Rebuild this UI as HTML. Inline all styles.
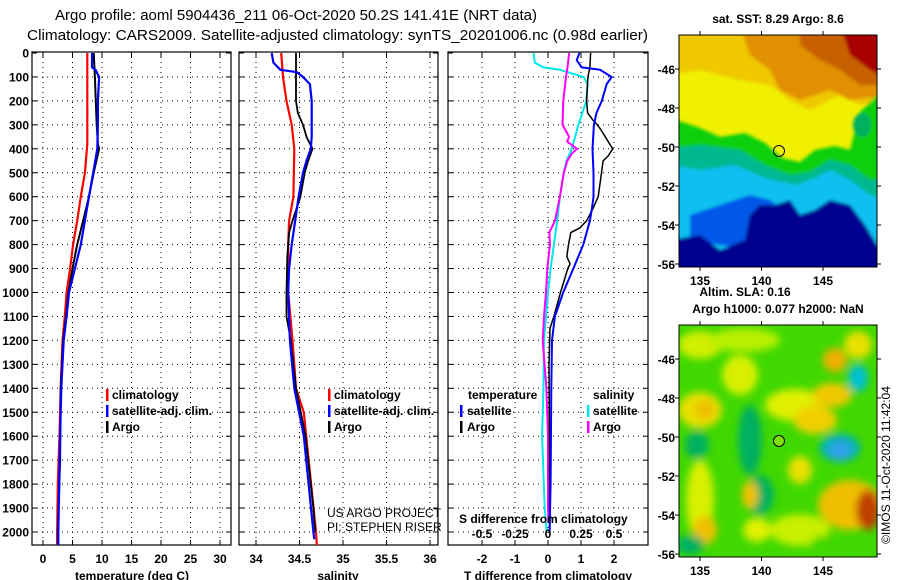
<!DOCTYPE html>
<html><head><meta charset="utf-8"><style>
html,body{margin:0;padding:0;background:#fff;}
svg{display:block;font-family:"Liberation Sans",Arial,sans-serif;}
.t{font-size:12px;font-weight:bold;fill:#000;}
.n{font-size:12px;fill:#000;}
</style></head><body>
<svg id="fig" width="900" height="580" viewBox="0 0 900 580">
<defs>
<clipPath id="c1"><rect x="32" y="52" width="199" height="493"/></clipPath>
<clipPath id="c2"><rect x="239" y="52" width="199" height="493"/></clipPath>
<clipPath id="c3"><rect x="448" y="52" width="200" height="493"/></clipPath>
<clipPath id="cm1"><rect x="679" y="35" width="198" height="232"/></clipPath>
<clipPath id="cm2"><rect x="679" y="325" width="198" height="232"/></clipPath>
<filter id="bl" x="-20%" y="-20%" width="140%" height="140%"><feGaussianBlur stdDeviation="1.5"/></filter>
<filter id="bl2" x="-50%" y="-50%" width="200%" height="200%"><feGaussianBlur stdDeviation="4"/></filter>
</defs>
<text x="55" y="20" font-size="15" textLength="482" lengthAdjust="spacingAndGlyphs">Argo profile: aoml 5904436_211 06-Oct-2020 50.2S 141.41E (NRT data)</text>
<text x="27" y="40" font-size="15" textLength="621" lengthAdjust="spacingAndGlyphs">Climatology: CARS2009. Satellite-adjusted climatology: synTS_20201006.nc (0.98d earlier)</text>
<g id="grids"></g>
<g id="series"></g>
<g id="labels"></g>

<!-- SST map -->
<text x="778" y="23" class="t" text-anchor="middle">sat. SST: 8.29 Argo: 8.6</text>
<g clip-path="url(#cm1)">
<rect x="679" y="35" width="198" height="232" fill="#f0f000"/>
<g filter="url(#bl)">
<polygon points="670,25 890,25 890,100 860,105 840,95 810,110 790,100 770,85 740,80 700,70 670,75" fill="#f0c800"/>
<polygon points="740,25 890,25 890,95 850,100 830,90 800,100 780,90 770,70 750,55" fill="#e09000"/>
<polygon points="800,25 890,25 890,85 860,85 840,70 820,60 800,45" fill="#c86000"/>
<polygon points="840,25 890,25 890,80 870,70 850,55" fill="#a80000"/>
<polygon points="670,118 700,128 720,137 745,133 765,143 782,158 800,162 815,150 835,146 850,150 860,112 877,95 890,95 890,290 670,290" fill="#10d010"/>
<ellipse cx="862" cy="125" rx="9" ry="12" fill="#00b060"/>
<polygon points="670,148 700,145 740,150 765,165 790,175 810,172 830,160 850,165 870,180 890,180 890,290 670,290" fill="#00b890"/>
<polygon points="670,165 700,170 735,165 765,178 795,185 815,178 830,170 850,180 870,195 890,200 890,290 670,290" fill="#10c0f0"/>
<polygon points="690,215 720,205 750,195 770,200 790,215 800,225 790,245 760,250 720,245 690,240" fill="#0058e8"/>
<polygon points="670,240 700,235 720,250 745,240 750,215 760,205 775,205 790,200 800,215 815,210 830,200 850,205 865,225 877,245 890,250 890,290 670,290" fill="#000090"/>
</g>
<circle cx="779" cy="151" r="5.5" fill="none" stroke="#000" stroke-width="1"/>
</g>
<rect x="679" y="35" width="198" height="232" fill="none" stroke="#000"/>

<!-- SLA map -->
<text x="745" y="296" class="t" text-anchor="middle">Altim. SLA: 0.16</text>
<text x="778" y="313" class="t" text-anchor="middle">Argo h1000: 0.077 h2000: NaN</text>
<g clip-path="url(#cm2)">
<rect x="679" y="325" width="198" height="232" fill="#40d800"/>
<g filter="url(#bl2)">
<ellipse cx="700" cy="345" rx="22" ry="14" fill="#d0f000"/>
<ellipse cx="745" cy="340" rx="35" ry="12" fill="#b8f000"/>
<ellipse cx="740" cy="375" rx="18" ry="20" fill="#d8f000"/>
<ellipse cx="700" cy="410" rx="22" ry="18" fill="#e8e000"/>
<ellipse cx="705" cy="410" rx="10" ry="10" fill="#f0c000"/>
<ellipse cx="795" cy="405" rx="30" ry="16" fill="#e0f000"/>
<ellipse cx="815" cy="420" rx="22" ry="14" fill="#f0d000"/>
<ellipse cx="832" cy="395" rx="20" ry="12" fill="#f0c800"/>
<ellipse cx="835" cy="360" rx="12" ry="12" fill="#f0b000"/>
<ellipse cx="858" cy="345" rx="14" ry="14" fill="#e8e000"/>
<ellipse cx="858" cy="378" rx="10" ry="14" fill="#00c0d0"/>
<ellipse cx="840" cy="448" rx="20" ry="14" fill="#00b0c0"/>
<ellipse cx="840" cy="450" rx="10" ry="8" fill="#30a0f0"/>
<ellipse cx="850" cy="505" rx="32" ry="25" fill="#f0c000"/>
<ellipse cx="868" cy="510" rx="12" ry="20" fill="#c04000"/>
<ellipse cx="750" cy="440" rx="12" ry="35" fill="#00b060"/>
<ellipse cx="760" cy="495" rx="14" ry="20" fill="#00b060"/>
<ellipse cx="697" cy="445" rx="12" ry="14" fill="#00b060"/>
<ellipse cx="700" cy="500" rx="14" ry="40" fill="#d8f000"/>
<ellipse cx="705" cy="530" rx="12" ry="14" fill="#f0c000"/>
<ellipse cx="757" cy="530" rx="14" ry="12" fill="#e0f000"/>
<ellipse cx="750" cy="495" rx="8" ry="14" fill="#f0c000"/>
<ellipse cx="800" cy="470" rx="12" ry="14" fill="#e8e000"/>
<ellipse cx="800" cy="530" rx="30" ry="16" fill="#c8f000"/>
<ellipse cx="830" cy="545" rx="20" ry="10" fill="#40d800"/>
<ellipse cx="690" cy="545" rx="14" ry="10" fill="#00b060"/>
</g>
<circle cx="779" cy="441" r="5.5" fill="#80e000" stroke="#000" stroke-width="1"/>
</g>
<rect x="679" y="325" width="198" height="232" fill="none" stroke="#000"/>
<g id="maplabels"></g>
<text transform="translate(890,465) rotate(-90)" class="n" text-anchor="middle" font-size="13">©IMOS 11-Oct-2020 11:42:04</text>
</svg>
<script>
// ---- data ----
var depthTicks = [0,100,200,300,400,500,600,700,800,900,1000,1100,1200,1300,1400,1500,1600,1700,1800,1900,2000];
var tempTicks = [0,5,10,15,20,25,30];
var salTicks = [34,34.5,35,35.5,36];
var salTickLabels = ["34","34.5","35","35.5","36"];
var tdTicks = [-2,-1,0,1,2];
var sdTicks = [-0.5,-0.25,0,0.25,0.5];
var sdTickLabels = ["-0.5","-0.25","0","0.25","0.5"];

var tClimDepth = [0,380,500,600,700,800,900,1000,1100,1200,1400,1600,1800,2000,2060];
var tClimVal   = [7.5,7.5,7.1,6.4,5.8,5.1,4.6,4.0,3.7,3.3,3.0,2.8,2.5,2.4,2.4];
var tArgoDepth = [0,100,300,380,400,500,600,700,800,900,1000,1100,1200,1400,1700,2000,2060];
var tArgoVal   = [8.6,8.8,9.1,9.3,9.5,8.6,7.8,6.8,5.8,5.0,4.3,3.9,3.4,3.0,2.9,2.5,2.5];
var tSatDepth  = [0,60,70,100,200,300,400,500,600,700,800,900,1000,1100,1200,1400,1600,2000,2060];
var tSatVal    = [8.3,8.3,8.9,9.5,9.3,9.3,9.2,8.5,7.8,7.1,6.4,5.4,4.4,4.0,3.5,3.1,2.9,2.6,2.6];

var sClimDepth = [0,100,200,300,400,600,700,800,1000,1200,1400,1500,2000,2060];
var sClimVal   = [34.29,34.31,34.35,34.41,34.44,34.43,34.38,34.37,34.37,34.42,34.46,34.55,34.69,34.70];
var sArgoDepth = [0,200,250,300,350,400,450,500,600,700,750,850,1000,1100,1200,1400,1600,1900,2000];
var sArgoVal   = [34.46,34.46,34.48,34.54,34.58,34.65,34.60,34.56,34.51,34.42,34.38,34.36,34.35,34.35,34.40,34.46,34.57,34.66,34.68];
var sSatDepth  = [0,40,70,80,100,130,200,350,400,450,500,600,700,800,900,1000,1200,1400,1600,2000,2030];
var sSatVal    = [34.18,34.20,34.28,34.47,34.54,34.62,34.64,34.64,34.63,34.58,34.54,34.49,34.45,34.41,34.38,34.37,34.39,34.44,34.55,34.66,34.67];

var tdArgoDepth = [0,60,100,200,250,280,300,320,400,430,450,500,600,650,700,730,750,800,850,880,900,1000,1100,1150,1300,1700,2000];
var tdArgoVal   = [1.29,1.27,1.21,1.17,1.20,1.36,1.49,1.60,1.96,1.82,1.67,1.62,1.52,1.36,1.17,0.97,0.69,0.62,0.57,0.67,0.60,0.38,0.18,0.06,0.03,0.05,0.05];
var tdSatDepth  = [0,30,60,70,100,130,200,250,300,400,500,600,650,700,800,900,1000,1100,1200,1400,1800,2000];
var tdSatVal    = [0.95,0.87,1.02,1.58,1.93,1.78,1.63,1.47,1.39,1.35,1.38,1.38,1.33,1.27,1.07,0.77,0.46,0.21,0.12,0.10,0.08,0.05];
var sdSatDepth  = [0,40,60,70,80,100,130,200,250,300,400,450,500,600,700,800,900,1000,1100,1200,1400,1600,1900,2000];
var sdSatVal    = [-0.11,-0.10,-0.036,0.09,0.15,0.27,0.30,0.29,0.26,0.23,0.18,0.14,0.12,0.09,0.07,0.045,0.02,0.0,-0.015,-0.03,-0.035,-0.045,-0.025,-0.01];
var sdArgoDepth = [0,50,100,200,300,330,350,370,400,420,450,500,600,700,750,800,900,1000,1100,1200,1400,1600,1900,1960];
var sdArgoVal   = [0.16,0.15,0.136,0.116,0.11,0.14,0.16,0.145,0.22,0.18,0.146,0.12,0.09,0.053,0.01,0.015,-0.005,-0.015,-0.03,-0.04,-0.012,0.0,0.0,0.003];

var latTicks = [-46,-48,-50,-52,-54,-56];
var lonTicks = [135,140,145];

// ---- axes ----
function yD(d){return 53 + d*0.2395;}
function xT(t){return 43 + t*5.9;}
function xS(s){return 256 + (s-34)*87;}
function xTD(t){return 548 + t*33;}
function xSD(s){return 548 + s*132;}
function latY1(l){return 147 + (-50-l)*19.5;}
function latY2(l){return 437 + (-50-l)*19.5;}
function lonX(l){return 700 + (l-135)*12.3;}

var NS='http://www.w3.org/2000/svg';
function mk(tag, attrs, parent){var e=document.createElementNS(NS,tag);for(var k in attrs)e.setAttribute(k,attrs[k]);parent.appendChild(e);return e;}
var G=document.getElementById('grids'), S=document.getElementById('series'), L=document.getElementById('labels'), M=document.getElementById('maplabels');

var panels=[{x0:32,x1:231,clip:'c1',xs:tempTicks.map(xT)},{x0:239,x1:438,clip:'c2',xs:salTicks.map(xS)},{x0:448,x1:648,clip:'c3',xs:tdTicks.map(xTD)}];
panels.forEach(function(p,i){
  var g=mk('g',{},G);
  
  
  depthTicks.forEach(function(d){
    if(d>0) mk('line',{x1:p.x0,x2:p.x1,y1:yD(d),y2:yD(d),stroke:'#000','stroke-width':1,'stroke-dasharray':'1,4'},g);
    mk('line',{x1:p.x0,x2:p.x0+5,y1:yD(d),y2:yD(d),stroke:'#000'},g);
    mk('line',{x1:p.x1-5,x2:p.x1,y1:yD(d),y2:yD(d),stroke:'#000'},g);
  });
  p.xs.forEach(function(x){
    mk('line',{x1:x,x2:x,y1:52,y2:545,stroke:'#000','stroke-width':1,'stroke-dasharray':'1,4'},g);
    mk('line',{x1:x,x2:x,y1:540,y2:545,stroke:'#000'},g);
    mk('line',{x1:x,x2:x,y1:52,y2:57,stroke:'#000'},g);
  });
  var r=mk('rect',{x:p.x0,y:52,width:p.x1-p.x0,height:493,fill:'none',stroke:'#000','stroke-width':1.2},g);
  
  
});

depthTicks.forEach(function(d){
  var t=mk('text',{x:29,y:yD(d)+4.5,'class':'t','text-anchor':'end'},L);
  t.textContent=d;
  
  
});
function xlab(arr,labels,fx,y,name){
  arr.forEach(function(v,i){
    var t=mk('text',{x:fx(v),y:y,'class':'t','text-anchor':'middle'},L);
    t.textContent=labels?labels[i]:v;
    
    
  });
}
xlab(tempTicks,null,xT,563,'temp-tick-label');
xlab(salTicks,salTickLabels,xS,563,'salinity-tick-label');
xlab(tdTicks,null,xTD,563,'tdiff-tick-label');
xlab(sdTicks,sdTickLabels,xSD,538,'sdiff-tick-label');

function txt(x,y,s,cls,name,anchor){var t=mk('text',{x:x,y:y,'class':cls,'text-anchor':anchor||'start'},L);t.textContent=s;return t;}
var e;
e=txt(132,580,'temperature (deg C)','t','',  'middle');
e=txt(338,580,'salinity','t','','middle');
e=txt(548,580,'T difference from climatology','t','','middle');
e=txt(459,523,'S difference from climatology','t','');
e=txt(327,517,'US ARGO PROJECT','n','');
e=txt(327,531,'PI: STEPHEN RISER','n','');

function series(dep,val,fx,color,w,clip,name){
  var d='';
  for(var i=0;i<dep.length;i++){d+=(i?'L':'M')+fx(val[i]).toFixed(1)+','+yD(dep[i]).toFixed(1);}
  var p=mk('path',{d:d,fill:'none',stroke:color,'stroke-width':w,'clip-path':'url(#'+clip+')','stroke-linejoin':'round'},S);
  
  
}
series(tClimDepth,tClimVal,xT,'#ff0000',2.2,'c1','temp-climatology-line');
series(tArgoDepth,tArgoVal,xT,'#000000',2,'c1','temp-argo-line');
series(tSatDepth,tSatVal,xT,'#0000ff',2.2,'c1','temp-satellite-line');
series(sClimDepth,sClimVal,xS,'#ff0000',2.2,'c2','salinity-climatology-line');
series(sArgoDepth,sArgoVal,xS,'#000000',1.8,'c2','salinity-argo-line');
series(sSatDepth,sSatVal,xS,'#0000ff',2.2,'c2','salinity-satellite-line');
series(sdSatDepth,sdSatVal,xSD,'#00e8e8',2,'c3','sdiff-satellite-line');
series(sdArgoDepth,sdArgoVal,xSD,'#ff00ff',2,'c3','sdiff-argo-line');
series(tdArgoDepth,tdArgoVal,xTD,'#000000',1.5,'c3','tdiff-argo-line');
series(tdSatDepth,tdSatVal,xTD,'#0000ff',2,'c3','tdiff-satellite-line');

function leg(mx,tx,y,color,label,name){
  var g=mk('g',{},L);
  
  
  mk('rect',{x:mx,y:y-10,width:2.5,height:12,fill:color},g);
  var t=mk('text',{x:tx,y:y,'class':'t'},g);t.textContent=label;
}
leg(106,112,399,'#ff0000','climatology','legend-temp-climatology');
leg(106,112,415,'#0000ff','satellite-adj. clim.','legend-temp-satellite');
leg(106,112,431,'#000000','Argo','legend-temp-argo');
leg(328,334,399,'#ff0000','climatology','legend-sal-climatology');
leg(328,334,415,'#0000ff','satellite-adj. clim.','legend-sal-satellite');
leg(328,334,431,'#000000','Argo','legend-sal-argo');
e=txt(468,399,'temperature','t','');
e=txt(593,399,'salinity','t','');
leg(460,467,415,'#0000ff','satellite','legend-tdiff-satellite');
leg(460,467,431,'#000000','Argo','legend-tdiff-argo');
leg(587,593,415,'#00e8e8','satellite','legend-sdiff-satellite');
leg(587,593,431,'#ff00ff','Argo','legend-sdiff-argo');

// map axis labels
[latY1,latY2].forEach(function(fy,k){
  latTicks.forEach(function(l){
    var t=mk('text',{x:675,y:fy(l)+5,'class':'t','text-anchor':'end','font-size':'13'},M);
    t.textContent=l;
    
    
    mk('line',{x1:877,x2:881,y1:fy(l),y2:fy(l),stroke:'#000'},M);
    mk('line',{x1:675,x2:679,y1:fy(l),y2:fy(l),stroke:'#000'},M);
  });
  lonTicks.forEach(function(l){
    var yb=k?557:267;
    var t=mk('text',{x:lonX(l),y:yb+18,'class':'t','text-anchor':'middle','font-size':'13'},M);
    t.textContent=l;
    
    
    mk('line',{x1:lonX(l),x2:lonX(l),y1:yb,y2:yb+4,stroke:'#000'},M);
    mk('line',{x1:lonX(l),x2:lonX(l),y1:yb-232-4,y2:yb-232,stroke:'#000'},M);
  });
});
</script>
</body></html>
